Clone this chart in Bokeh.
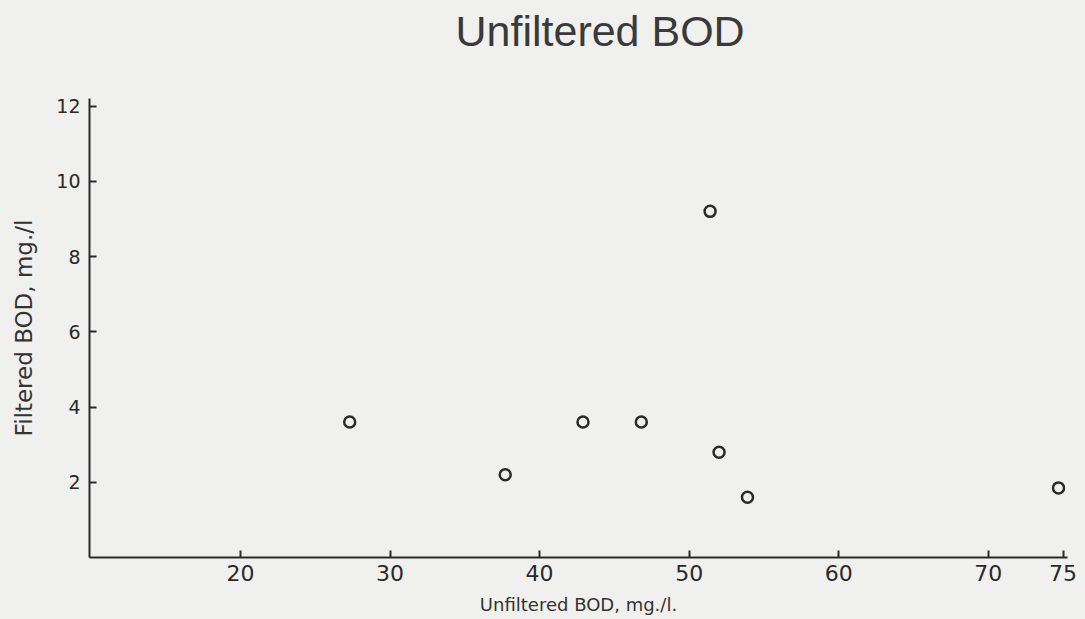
from bokeh.plotting import figure
from bokeh.models import FixedTicker, Range1d, Label
from bokeh.layouts import column
from bokeh.embed import file_html
from bokeh.resources import INLINE

# data
unfiltered_bod = [27.3, 37.7, 42.9, 46.8, 51.4, 52.0, 53.9, 74.7]
filtered_bod = [3.6, 2.2, 3.6, 3.6, 9.2, 2.8, 1.6, 1.85]
x_ticks = [20, 30, 40, 50, 60, 70, 75]
y_ticks = [2, 4, 6, 8, 10, 12]
title_text = "Unfiltered BOD"
x_label = "Unfiltered BOD, mg./l."
y_label = "Filtered BOD, mg./l"

PAPER = "#f0f0ee"
INK = "#2a2a2a"

# --- title strip (its own small figure, no axes) ---
t = figure(width=1085, height=80, output_backend="svg", toolbar_location=None,
           x_axis_type=None, y_axis_type=None,
           x_range=Range1d(0, 1085), y_range=Range1d(0, 80),
           min_border=0, background_fill_color=None, border_fill_color=PAPER,
           outline_line_color=None)
t.grid.visible = False
t.add_layout(Label(x=366, y=50, x_units="screen", y_units="screen", text=title_text,
                   text_font="Liberation Sans", text_font_size="43px",
                   text_color="#3a3a3a", text_baseline="alphabetic", text_align="left"))

# --- main scatter ---
p = figure(width=1085, height=539, output_backend="svg", toolbar_location=None,
           x_range=Range1d(9.9, 75.3), y_range=Range1d(0, 12.2),
           min_border_left=89, min_border_right=18, min_border_top=18, min_border_bottom=62,
           background_fill_color=None, border_fill_color=PAPER, outline_line_color=None)

p.grid.visible = False

for ax in (p.xaxis[0], p.yaxis[0]):
    ax.axis_line_color = INK
    ax.axis_line_width = 2
    ax.major_tick_line_color = INK
    ax.major_tick_line_width = 2
    ax.major_tick_in = 7
    ax.major_tick_out = 0
    ax.minor_tick_line_color = None
    ax.major_label_text_font = "DejaVu Sans"
    ax.major_label_text_color = INK
    ax.axis_label_text_font = "DejaVu Sans"
    ax.axis_label_text_font_style = "normal"
    ax.axis_label_text_color = "#333333"

p.xaxis.ticker = FixedTicker(ticks=x_ticks)
p.yaxis.ticker = FixedTicker(ticks=y_ticks)

p.xaxis.major_label_text_font_size = "22px"
p.xaxis.major_label_standoff = 7
p.xaxis.axis_label = x_label
p.xaxis.axis_label_text_font_size = "18px"
p.xaxis.axis_label_standoff = 10

p.yaxis.major_label_text_font_size = "19px"
p.yaxis.major_label_standoff = 9
p.yaxis.axis_label = y_label
p.yaxis.axis_label_text_font_size = "23px"
p.yaxis.axis_label_standoff = 16

p.scatter(unfiltered_bod, filtered_bod, marker="circle", size=11,
          fill_color=None, line_color=INK, line_width=2.5)

layout = column(t, p, spacing=0, styles={"background-color": PAPER})
open("out.html", "w").write(file_html(layout, INLINE))
